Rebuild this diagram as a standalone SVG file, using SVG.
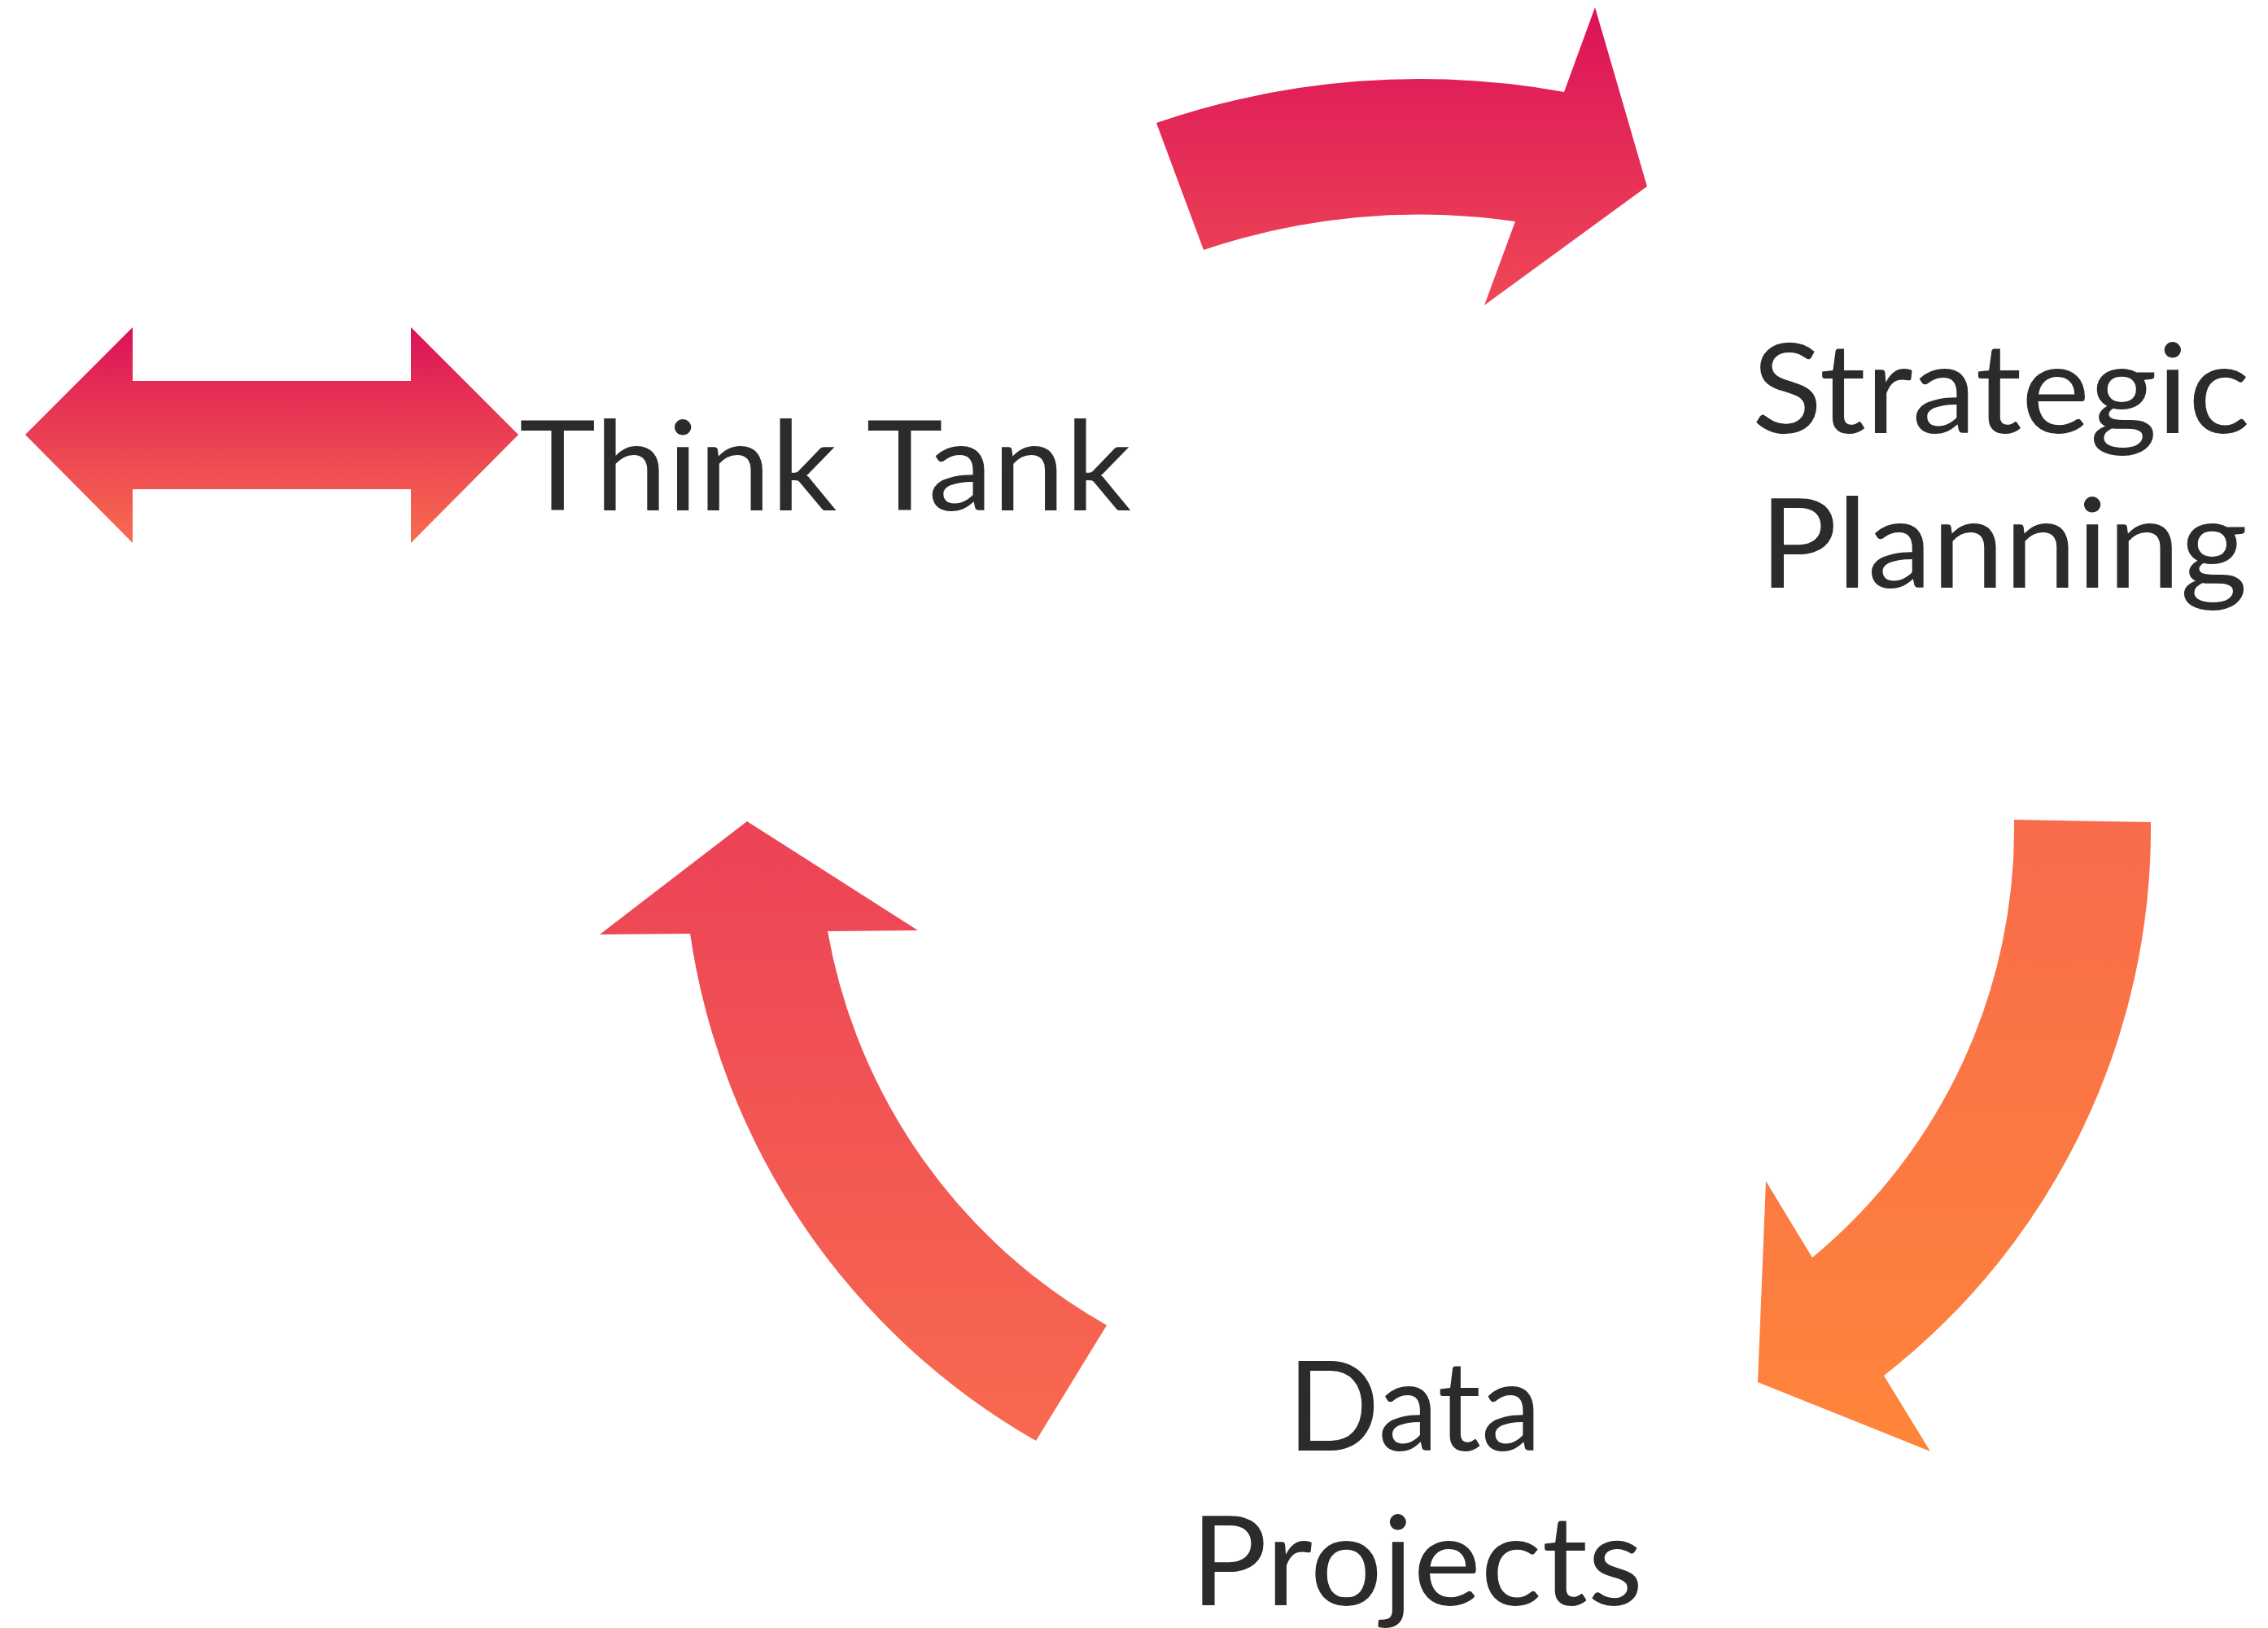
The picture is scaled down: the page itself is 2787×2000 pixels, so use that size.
<svg xmlns="http://www.w3.org/2000/svg" width="2787" height="2000" viewBox="0 0 2787 2000">
  <style>
    .lbl { font-family: Lato, "Open Sans", "Liberation Sans", sans-serif; font-size: 153px; fill: #2b2b2b; }
  </style>
  <defs>
    <linearGradient id="gTop" x1="0" y1="0" x2="0" y2="1">
      <stop offset="0" stop-color="#DC1258"/>
      <stop offset="1" stop-color="#EF4856"/>
    </linearGradient>
    <linearGradient id="gDouble" x1="0" y1="0" x2="0" y2="1">
      <stop offset="0" stop-color="#DC1258"/>
      <stop offset="1" stop-color="#F86C4F"/>
    </linearGradient>
    <linearGradient id="gRight" x1="0" y1="0" x2="0" y2="1">
      <stop offset="0" stop-color="#F86B4C"/>
      <stop offset="1" stop-color="#FF853A"/>
    </linearGradient>
    <linearGradient id="gLeft" x1="0" y1="0" x2="0" y2="1">
      <stop offset="0" stop-color="#EC4257"/>
      <stop offset="1" stop-color="#F86A4F"/>
    </linearGradient>
  </defs>
  <rect width="2787" height="2000" fill="#ffffff"/>

  <g id="connectors">
    <path id="arrow-top" fill="url(#gTop)" d="M1421,151 A995,995 0 0 1 1922,113 L1960,9 L2024,229 L1824,375 L1862,272 A826,826 0 0 0 1479,307 Z"/>
    <path id="arrow-right" fill="url(#gRight)" d="M2475,1007 L2643,1010 A853,853 0 0 1 2315,1690 L2372,1783 L2160,1698 L2170,1451 L2227,1545 A684,684 0 0 0 2475,1007 Z"/>
    <path id="arrow-left" fill="url(#gLeft)" d="M918,1009 L1128,1143 L1017,1144 A695,695 0 0 0 1360,1628 L1273,1770 A862,862 0 0 1 848,1147 L737,1148 Z"/>
  </g>

  <g id="node-think-tank">
    <polygon fill="url(#gDouble)" points="31,534 163,402 163,468 505,468 505,402 637,534 505,667 505,601 163,601 163,667"/>
    <text class="lbl" x="638" y="627" textLength="752" lengthAdjust="spacingAndGlyphs">Think Tank</text>
  </g>

  <g id="node-strategic-planning">
    <text class="lbl" x="2459" y="532" text-anchor="middle" textLength="612" lengthAdjust="spacingAndGlyphs">Strategic</text>
    <text class="lbl" x="2462" y="722" text-anchor="middle" textLength="600" lengthAdjust="spacingAndGlyphs">Planning</text>
  </g>

  <g id="node-data-projects">
    <text class="lbl" x="1738" y="1782" text-anchor="middle" textLength="312" lengthAdjust="spacingAndGlyphs">Data</text>
    <text class="lbl" x="1741" y="1972" text-anchor="middle" textLength="556" lengthAdjust="spacingAndGlyphs">Projects</text>
  </g>
</svg>
